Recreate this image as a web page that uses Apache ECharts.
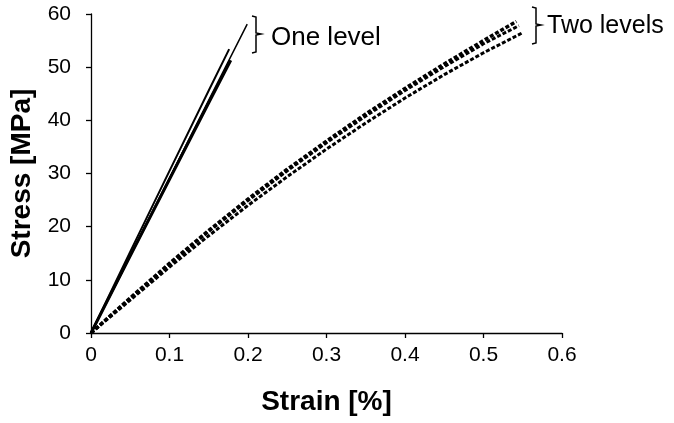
<!DOCTYPE html>
<html>
<head>
<meta charset="utf-8">
<script src="https://cdn.jsdelivr.net/npm/echarts@6/dist/echarts.min.js"></script>
<style>html,body{margin:0;padding:0;background:#fff;}#c{width:674px;height:423px;}</style>
</head>
<body>
<div id="c"></div>
<script>
// One level specimens (solid lines): [strain %, stress MPa]
const oneLevelA = [[0,0],[0.05,14.6],[0.1,29.2],[0.15,43.8],[0.199,58.1]];
const oneLevelB = [[0,0],[0.05,15.3],[0.1,30.5],[0.15,45.6],[0.176,53.4]];
const oneLevelC = [[0,0],[0.05,14.5],[0.1,28.9],[0.15,43.3],[0.178,51.3]];
const oneLevelD = [[0,0],[0.05,14.5],[0.1,29.0],[0.137,39.7]];
// Two levels specimens (dashed lines)
const twoLevelA = [[0,0],[0.05,6.6],[0.1,13.1],[0.15,19.3],[0.2,25.2],[0.25,30.8],[0.3,36.1],[0.35,41.2],[0.4,46.0],[0.45,50.6],[0.5,55.0],[0.542,58.6]];
const twoLevelB = [[0,0],[0.05,6.5],[0.1,12.9],[0.15,19.1],[0.2,24.9],[0.25,30.5],[0.3,35.8],[0.35,40.8],[0.4,45.6],[0.45,50.1],[0.5,54.4],[0.545,57.8]];
const twoLevelC = [[0,0],[0.05,6.2],[0.1,12.4],[0.15,18.3],[0.2,24.0],[0.25,29.4],[0.3,34.6],[0.35,39.5],[0.4,44.2],[0.45,48.6],[0.5,52.7],[0.55,56.5]];
const xTicks = [0, 0.1, 0.2, 0.3, 0.4, 0.5, 0.6];
const yTicks = [0, 10, 20, 30, 40, 50, 60];
const xName = 'Strain [%]';
const yName = 'Stress [MPa]';
const labelOne = 'One level';
const labelTwo = 'Two levels';

const FONT = '"Liberation Sans", Arial, sans-serif';
const chart = echarts.init(document.getElementById('c'), null, {renderer: 'canvas'});

function solid(data, w) {
  return {type: 'line', data: data, showSymbol: false, silent: true, animation: false,
    lineStyle: {color: '#000', width: w, type: 'solid'}};
}
function dashed(data, w) {
  return {type: 'line', data: data, showSymbol: false, silent: true, animation: false,
    lineStyle: {color: '#000', width: w, type: [4, 2]}};
}

const axisCommon = {
  axisLine: {show: true, lineStyle: {color: '#000', width: 1.3}},
  axisTick: {show: true, inside: false, length: 5, lineStyle: {color: '#000', width: 1.3}},
  splitLine: {show: false},
  nameLocation: 'middle',
  nameTextStyle: {fontFamily: FONT, fontSize: 28, fontWeight: 'bold', color: '#000'}
};

chart.setOption({
  animation: false,
  backgroundColor: '#fff',
  grid: {left: 91, right: 112, top: 14, bottom: 90, containLabel: false},
  xAxis: Object.assign({}, axisCommon, {
    type: 'value', min: xTicks[0], max: xTicks[xTicks.length - 1], interval: 0.1,
    name: xName, nameGap: 55,
    axisLabel: {fontFamily: FONT, fontSize: 21, color: '#000', margin: 12,
      formatter: v => String(Math.round(v * 10) / 10)}
  }),
  yAxis: Object.assign({}, axisCommon, {
    type: 'value', min: yTicks[0], max: yTicks[yTicks.length - 1], interval: 10,
    name: yName, nameGap: 54, nameRotate: 90,
    axisLabel: {fontFamily: FONT, fontSize: 21, color: '#000', margin: 20}
  }),
  series: [
    solid(oneLevelA, 1.5),
    solid(oneLevelB, 2),
    solid(oneLevelC, 3),
    solid(oneLevelD, 2),
    dashed(twoLevelA, 3.5),
    dashed(twoLevelB, 3),
    dashed(twoLevelC, 3)
  ],
  graphic: [
    {type: 'polyline', silent: true,
      shape: {points: [[252,16],[256,17],[256,33],[261,34],[256,35],[256,52],[252,53]]},
      style: {stroke: '#000', lineWidth: 1.5, fill: null}},
    {type: 'text', left: 271, top: 25, silent: true,
      style: {text: labelOne, fontFamily: FONT, fontSize: 26, fill: '#000'}},
    {type: 'polyline', silent: true,
      shape: {points: [[532,7],[536,8],[536,24],[541,25],[536,26],[536,43],[532,44]]},
      style: {stroke: '#000', lineWidth: 1.5, fill: null}},
    {type: 'text', left: 547, top: 14, silent: true,
      style: {text: labelTwo, fontFamily: FONT, fontSize: 25, fill: '#000'}}
  ]
});
</script>
</body>
</html>
